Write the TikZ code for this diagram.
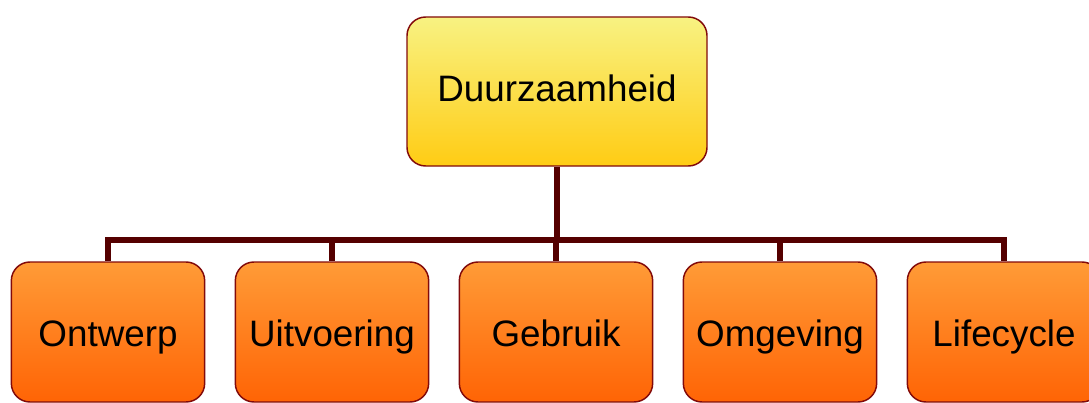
\documentclass[tikz,border=0pt]{standalone}
\usepackage{fontspec}
\setmainfont{Liberation Sans}
\usetikzlibrary{positioning}
\definecolor{boxline}{RGB}{130,10,10}
\definecolor{barline}{RGB}{85,0,0}
\definecolor{yellowtop}{RGB}{248,242,130}
\definecolor{yellowbot}{RGB}{255,204,20}
\definecolor{orangetop}{RGB}{255,155,55}
\definecolor{orangebot}{RGB}{255,100,5}
\tikzstyle{topbox}=[draw=boxline, line width=1.1pt, rounded corners=14pt, minimum width=225pt, minimum height=111.75pt, top color=yellowtop, bottom color=yellowbot, font=\fontsize{27.6}{33}\selectfont, text height=20.5pt, text depth=5.2pt]
\tikzstyle{subbox}=[draw=boxline, line width=1.1pt, rounded corners=14pt, minimum width=145pt, minimum height=105pt, top color=orangetop, bottom color=orangebot, font=\fontsize{27.6}{33}\selectfont, text height=27pt, text depth=5pt]
\tikzstyle{connector}=[draw=barline, line width=4.5pt]

\begin{document}
\begin{tikzpicture}[x=0.75pt,y=-0.75pt]
    \useasboundingbox (0,0) rectangle (1089,403);
    \clip (0,0) rectangle (1089,403);
    % nodes
    \node[topbox] (top) at (557, 91.5) {Duurzaamheid};
    \node[subbox] (n1) at (108, 332) {Ontwerp};
    \node[subbox] (n2) at (332, 332) {Uitvoering};
    \node[subbox] (n3) at (556, 332) {Gebruik};
    \node[subbox] (n4) at (780, 332) {Omgeving};
    \node[subbox] (n5) at (1004, 332) {Lifecycle};
    \coordinate (bar) at (557, 240);

    % connectors
    \draw[connector] (top.south) -- (bar);
    \draw[connector] (bar) -| (n1.north);
    \draw[connector] (bar) -| (n2.north);
    \draw[connector] (bar) -| (n3.north);
    \draw[connector] (bar) -| (n4.north);
    \draw[connector] (bar) -| (n5.north);
\end{tikzpicture}
\end{document}
